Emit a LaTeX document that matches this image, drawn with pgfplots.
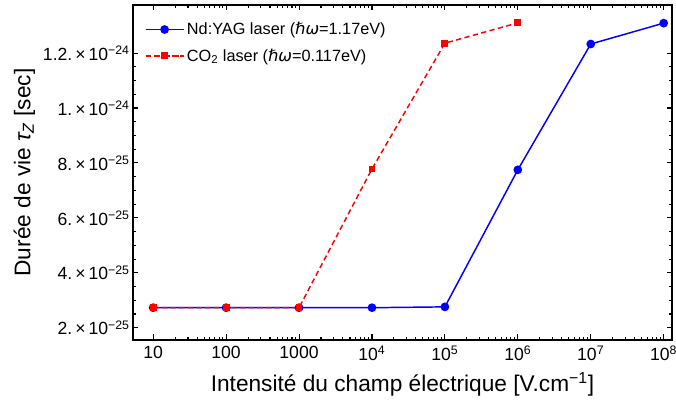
\documentclass[border=0pt]{standalone}
\usepackage{fontspec}
\setmainfont{Liberation Sans}
\newfontfamily\dejavu{DejaVu Sans}
\usepackage{pgfplots}
\pgfplotsset{compat=1.18}
\newcommand{\sci}[2]{#1.\,×\,10\textsuperscript{−#2}}
\begin{document}
\begin{tikzpicture}
\begin{axis}[
  scale only axis,
  width=404pt, height=251pt,
  xmode=log,
  xmin=5.3, xmax=1.3e8,
  ymin=1.56e-25, ymax=1.375e-24,
  xtick={10,100,1000,1e4,1e5,1e6,1e7,1e8},
  xticklabels={10,100,1000,10\textsuperscript{4},10\textsuperscript{5},10\textsuperscript{6},10\textsuperscript{7},10\textsuperscript{8}},
  ytick={2e-25,4e-25,6e-25,8e-25,1e-24,1.2e-24},
  yticklabels={\sci{2}{25},\sci{4}{25},\sci{6}{25},\sci{8}{25},\sci{1}{24},\sci{1.2}{24}},
  minor y tick num=3,
  tick align=inside,
  major tick length=4pt,
  minor tick length=2pt,
  tick style={black, line width=0.8pt},
  axis line style={line width=1pt},
  ticklabel style={font=\fontsize{13.2}{15}\selectfont},
  yticklabel style={xshift=1pt},
  xticklabel style={yshift=-1pt},
  xlabel={Intensité du champ électrique [V.cm\textsuperscript{−1}]},
  ylabel={Durée de vie {\itshape τ}\textsubscript{\itshape Z} [sec]},
  label style={font=\fontsize{17}{19}\selectfont},
  xlabel style={yshift=-2pt},
  ylabel style={yshift=-1pt},
  legend style={draw=none, fill=none, at={(0.014,0.965)}, anchor=north west,
    font=\fontsize{12.2}{14}\selectfont, row sep=5pt},
  legend cell align=left,
  legend image code/.code={
    \draw[#1] (0cm,0cm) -- (0.5cm,0cm);
    \draw[#1,mark repeat=2,mark phase=2] plot coordinates {(0cm,0cm) (0.5cm,0cm) (1cm,0cm)};
    \draw[#1] (0.5cm,0cm) -- (1cm,0cm);
  },
  clip=false,
]
\addplot[blue, line width=1.1pt, mark=*, mark size=2.7pt, mark options={solid, fill=blue}]
  coordinates {(10,2.73e-25) (100,2.73e-25) (1000,2.73e-25) (1e4,2.73e-25) (1e5,2.76e-25) (1e6,7.75e-25) (1e7,1.233e-24) (1e8,1.309e-24)};
\addlegendentry{Nd:YAG laser ({\dejavu\itshape ℏω}=1.17eV)}
\addplot[red, line width=1.1pt, dash pattern=on 4pt off 2.5pt, mark=square*, mark size=2pt, mark options={solid, fill=red}]
  coordinates {(10,2.73e-25) (100,2.73e-25) (1000,2.73e-25) (1e4,7.78e-25) (1e5,1.236e-24) (1e6,1.31e-24)};
\addlegendentry{CO\textsubscript{2} laser ({\dejavu\itshape ℏω}=0.117eV)}
\end{axis}
\pgfresetboundingbox
\path[use as bounding box] ([shift={(-99.75pt,-51pt)}]current axis.south west) rectangle ([shift={(3pt,3.75pt)}]current axis.north east);
\end{tikzpicture}
\end{document}
